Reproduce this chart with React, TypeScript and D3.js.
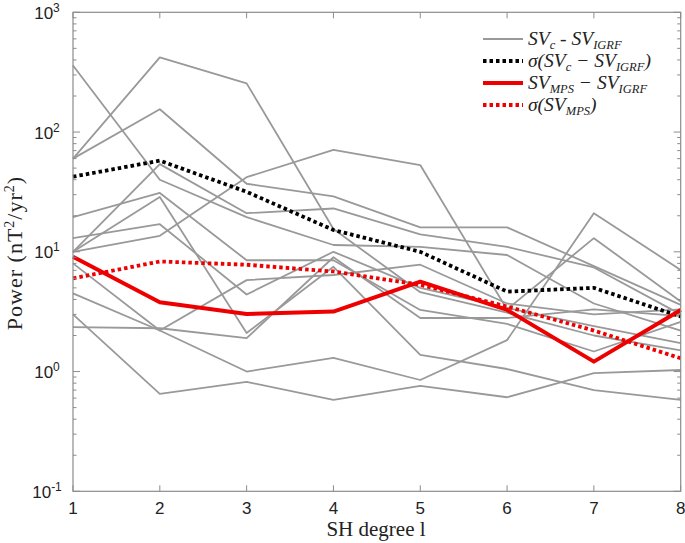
import React from 'react';
import * as d3 from 'd3';

const DEGREES = [1, 2, 3, 4, 5, 6, 7, 8];

const GRAY_SERIES: number[][] = [
  [360, 40, 19.5, 11.4, 11, 9.4, 3.7, 2.2],
  [60, 420, 255, 15.5, 4.6, 3.1, 2.0, 1.5],
  [60, 155, 37, 29, 16, 16, 7.6, 3.6],
  [19.5, 31, 8.5, 8.5, 3.27, 2.5, 1.47, 2.6],
  [13, 17, 4.4, 10, 5.0, 3.4, 2.4, 1.73],
  [10, 54, 21, 23, 14, 11, 7.4, 3.0],
  [10, 28.7, 2.1, 7.5, 1.38, 1.05, 0.7, 0.58],
  [10, 13.6, 42, 71, 53, 3.3, 13, 3.84],
  [8, 2.2, 5.8, 6.4, 7.8, 3.7, 3.0, 3.3],
  [4.5, 2.2, 1.0, 1.3, 0.85, 1.83, 21, 7.06],
  [3, 0.65, 0.82, 0.58, 0.76, 0.61, 0.97, 1.03],
  [2.35, 2.3, 1.9, 9, 2.8, 2.8, 3.3, 2.9],
];

const SIGMA_C = [42.4, 57.7, 31.7, 15.2, 10.0, 4.65, 5.0, 2.88];
const SV_MPS = [9.1, 3.79, 3.03, 3.17, 5.63, 3.27, 1.21, 3.27];
const SIGMA_MPS = [6.0, 8.3, 7.8, 6.85, 5.3, 3.49, 2.2, 1.29];

const Y_TICK_EXPONENTS = [-1, 0, 1, 2, 3];
const X_TICKS = [1, 2, 3, 4, 5, 6, 7, 8];

const W = 685;
const H = 543;
const X0 = 73;
const X1 = 680.7;
const Y0 = 491.3;
const Y1 = 12.3;

const AXIS = '#8c8c8c';
const GRAY = '#999999';
const RED = '#ee0000';
const SERIF = "'Liberation Serif', 'Times New Roman', serif";
const SANS = "'Liberation Sans', Arial, Helvetica, sans-serif";

type Part = { t: string; sub?: boolean };
const LEGEND: { parts: Part[]; color: string; width: number; dash?: string }[] = [
  { parts: [{ t: 'SV' }, { t: 'c', sub: true }, { t: ' - SV' }, { t: 'IGRF', sub: true }], color: GRAY, width: 1.8 },
  { parts: [{ t: 'σ(SV' }, { t: 'c', sub: true }, { t: ' − SV' }, { t: 'IGRF', sub: true }, { t: ')' }], color: '#000', width: 3.8, dash: '3.5,3' },
  { parts: [{ t: 'SV' }, { t: 'MPS', sub: true }, { t: ' − SV' }, { t: 'IGRF', sub: true }], color: RED, width: 4 },
  { parts: [{ t: 'σ(SV' }, { t: 'MPS', sub: true }, { t: ')' }], color: RED, width: 3.8, dash: '3.5,3' },
];

export default function App() {
  const x = d3.scaleLinear().domain([1, 8]).range([X0, X1]);
  const y = d3.scaleLog().domain([0.1, 1000]).range([Y0, Y1]);
  const line = d3
    .line<number>()
    .x((_, i) => x(DEGREES[i]))
    .y((d) => y(d));

  const minor: number[] = [];
  for (const e of [-1, 0, 1, 2]) {
    for (let k = 2; k <= 9; k++) minor.push(k * Math.pow(10, e));
  }

  const renderParts = (parts: Part[], subSize: number) => {
    let shifted = false;
    return parts.map((p, i) => {
      let dy = 0;
      if (p.sub && !shifted) {
        dy = 3.5;
        shifted = true;
      } else if (!p.sub && shifted) {
        dy = -3.5;
        shifted = false;
      }
      return (
        <tspan key={i} dy={dy} fontSize={p.sub ? subSize : undefined}>
          {p.t}
        </tspan>
      );
    });
  };

  return (
    <svg
      width={W}
      height={H}
      style={{ position: 'absolute', left: 0, top: 0, background: '#fff' }}
    >
      <rect x={0} y={0} width={W} height={H} fill="#fff" />

      {/* data */}
      <g fill="none">
        {GRAY_SERIES.map((s, i) => (
          <path key={i} d={line(s) || ''} stroke={GRAY} strokeWidth={1.8} strokeLinejoin="round" />
        ))}
        <path d={line(SIGMA_C) || ''} stroke="#000" strokeWidth={3.8} strokeDasharray="3.5,3" />
        <path d={line(SV_MPS) || ''} stroke={RED} strokeWidth={4} strokeLinejoin="round" />
        <path d={line(SIGMA_MPS) || ''} stroke={RED} strokeWidth={3.8} strokeDasharray="3.5,3" />
      </g>

      {/* axes box */}
      <rect x={X0} y={Y1} width={X1 - X0} height={Y0 - Y1} fill="none" stroke={AXIS} strokeWidth={1.2} />

      {/* y ticks */}
      {Y_TICK_EXPONENTS.map((e) => {
        const yy = y(Math.pow(10, e));
        return (
          <g key={e}>
            <line x1={X0} x2={X0 + 7} y1={yy} y2={yy} stroke={AXIS} strokeWidth={1} />
            <line x1={X1} x2={X1 - 7} y1={yy} y2={yy} stroke={AXIS} strokeWidth={1} />
            <text x={47} y={yy + 6.5} textAnchor="middle" fontFamily={SANS} fontSize={17} fill="#222">
              <tspan>10</tspan>
              <tspan dy={-7} fontSize={12}>{e}</tspan>
            </text>
          </g>
        );
      })}
      {minor.map((v, i) => {
        const yy = y(v);
        return (
          <g key={'m' + i}>
            <line x1={X0} x2={X0 + 3.5} y1={yy} y2={yy} stroke={AXIS} strokeWidth={1} />
            <line x1={X1} x2={X1 - 3.5} y1={yy} y2={yy} stroke={AXIS} strokeWidth={1} />
          </g>
        );
      })}

      {/* x ticks */}
      {X_TICKS.map((t) => {
        const xx = x(t);
        return (
          <g key={t}>
            <line x1={xx} x2={xx} y1={Y0} y2={Y0 - 6} stroke={AXIS} strokeWidth={1} />
            <line x1={xx} x2={xx} y1={Y1} y2={Y1 + 6} stroke={AXIS} strokeWidth={1} />
            <text x={xx} y={514} textAnchor="middle" fontFamily={SANS} fontSize={17} fill="#222">
              {t}
            </text>
          </g>
        );
      })}

      {/* axis labels */}
      <text x={376} y={536} textAnchor="middle" fontFamily={SERIF} fontSize={21} fill="#222">
        SH degree l
      </text>
      <text
        transform={`translate(22,253) rotate(-90)`}
        textAnchor="middle"
        fontFamily={SERIF}
        fontSize={22}
        letterSpacing={1}
        fill="#222"
      >
        <tspan>Power (nT</tspan>
        <tspan dy={-8} fontSize={14}>2</tspan>
        <tspan dy={8}>/yr</tspan>
        <tspan dy={-8} fontSize={14}>2</tspan>
        <tspan dy={8}>)</tspan>
      </text>

      {/* legend */}
      {LEGEND.map((item, i) => {
        const yy = 39 + i * 22;
        return (
          <g key={i}>
            <line
              x1={483}
              x2={523}
              y1={yy}
              y2={yy}
              stroke={item.color}
              strokeWidth={item.width}
              strokeDasharray={item.dash}
            />
            <text x={528} y={yy + 6} fontFamily={SERIF} fontStyle="italic" fontSize={19.5} fill="#222">
              {renderParts(item.parts, 12.5)}
            </text>
          </g>
        );
      })}
    </svg>
  );
}
